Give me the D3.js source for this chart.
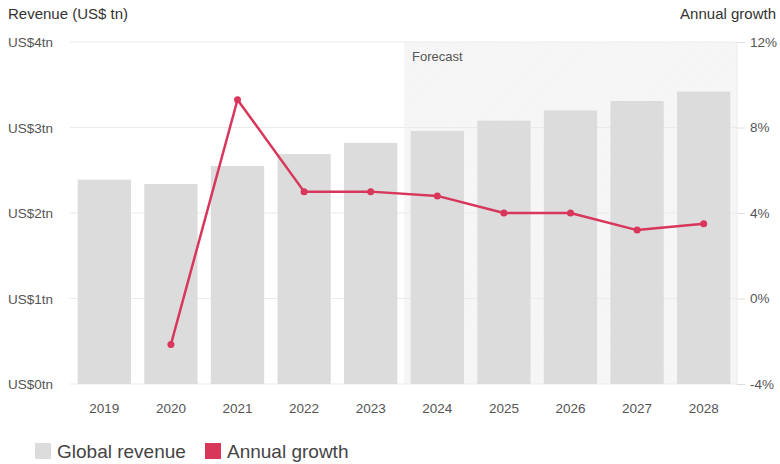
<!DOCTYPE html>
<html>
<head>
<meta charset="utf-8">
<script src="https://cdn.jsdelivr.net/npm/d3@7"></script>
<style>
  body { margin: 0; background: #fff; }
  svg { font-family: "Liberation Sans", Arial, sans-serif; }
</style>
</head>
<body>
<svg id="chart"></svg>
<script>
const years = ["2019", "2020", "2021", "2022", "2023", "2024", "2025", "2026", "2027", "2028"];
const revenue = [2.39, 2.34, 2.55, 2.69, 2.82, 2.96, 3.08, 3.20, 3.31, 3.42];
const growth = [null, -2.15, 9.3, 5.0, 5.0, 4.8, 4.0, 4.0, 3.2, 3.5];
const forecastStart = "2024";
const leftTicks = [0, 1, 2, 3, 4];
const rightTicks = [-4, 0, 4, 8, 12];

const width = 780, height = 464;
const margin = { top: 42, right: 43, bottom: 80, left: 71 };

const svg = d3.select("#chart")
    .attr("width", width)
    .attr("height", height);

const x = d3.scaleBand()
    .domain(years)
    .range([margin.left, width - margin.right])
    .paddingInner(0.2)
    .paddingOuter(0.1);

const y = d3.scaleLinear().domain([0, 4]).range([height - margin.bottom, margin.top]);
const y2 = d3.scaleLinear().domain([-4, 12]).range([height - margin.bottom, margin.top]);

// dotted pattern for forecast zone
const defs = svg.append("defs");
const pat = defs.append("pattern")
    .attr("id", "hatch")
    .attr("width", 3).attr("height", 3)
    .attr("patternUnits", "userSpaceOnUse")
    .attr("patternTransform", "rotate(45)");
pat.append("rect").attr("width", 3).attr("height", 3).attr("fill", "#f7f7f7");
pat.append("line").attr("x1", 0).attr("y1", 0).attr("x2", 0).attr("y2", 3)
    .attr("stroke", "#f0f0f0").attr("stroke-width", 1);

// forecast background
const fx = x(forecastStart) - x.step() * x.paddingInner() / 2;
svg.append("rect")
    .attr("x", fx)
    .attr("y", margin.top)
    .attr("width", width - margin.right - fx)
    .attr("height", y(0) - margin.top)
    .attr("fill", "url(#hatch)");

svg.append("text")
    .attr("x", fx + 8)
    .attr("y", margin.top + 19)
    .attr("font-size", 13)
    .attr("fill", "#555")
    .text("Forecast");

// gridlines
svg.append("g")
    .selectAll("line")
    .data(leftTicks)
    .join("line")
    .attr("x1", margin.left - 1)
    .attr("x2", width - margin.right)
    .attr("y1", d => y(d))
    .attr("y2", d => y(d))
    .attr("stroke", "#ebebeb");

// right border line
svg.append("line")
    .attr("x1", width - margin.right).attr("x2", width - margin.right)
    .attr("y1", margin.top).attr("y2", y(0))
    .attr("stroke", "#ececec");

// left axis labels
svg.append("g")
    .selectAll("text")
    .data(leftTicks)
    .join("text")
    .attr("x", 8)
    .attr("y", d => y(d) + 5)
    .attr("font-size", 13.5)
    .attr("fill", "#555")
    .text(d => `US$${d}tn`);

// right axis
const yAxisRight = d3.axisRight(y2)
    .tickValues(rightTicks)
    .tickSize(8)
    .tickPadding(5)
    .tickFormat(d => d + "%");

const rg = svg.append("g")
    .attr("transform", `translate(${width - margin.right},0)`)
    .call(yAxisRight);
rg.select(".domain").remove();
rg.selectAll(".tick line").attr("stroke", "#ddd");
rg.selectAll(".tick text")
    .attr("font-size", 13.5)
    .attr("fill", "#555")
    .attr("font-family", "Liberation Sans, Arial, sans-serif");

// bars
svg.append("g")
    .selectAll("rect")
    .data(years)
    .join("rect")
    .attr("x", d => x(d))
    .attr("width", x.bandwidth())
    .attr("y", (d, i) => y(revenue[i]))
    .attr("height", (d, i) => y(0) - y(revenue[i]))
    .attr("fill", "#dcdcdc");

// x labels
svg.append("g")
    .selectAll("text")
    .data(years)
    .join("text")
    .attr("x", d => x(d) + x.bandwidth() / 2)
    .attr("y", y(0) + 29)
    .attr("text-anchor", "middle")
    .attr("font-size", 13.5)
    .attr("fill", "#555")
    .text(d => d);

// growth line
const pts = years.map((d, i) => [d, growth[i]]).filter(d => d[1] !== null);
const line = d3.line()
    .x(d => x(d[0]) + x.bandwidth() / 2)
    .y(d => y2(d[1]));

svg.append("path")
    .datum(pts)
    .attr("d", line)
    .attr("fill", "none")
    .attr("stroke", "#d8365a")
    .attr("stroke-width", 2.5)
    .attr("stroke-linejoin", "round");

svg.append("g")
    .selectAll("circle")
    .data(pts)
    .join("circle")
    .attr("cx", d => x(d[0]) + x.bandwidth() / 2)
    .attr("cy", d => y2(d[1]))
    .attr("r", 3.5)
    .attr("fill", "#d8365a");

// axis titles
svg.append("text")
    .attr("x", 8).attr("y", 19)
    .attr("font-size", 15)
    .attr("fill", "#333")
    .text("Revenue (US$ tn)");

svg.append("text")
    .attr("x", width - 4).attr("y", 19)
    .attr("text-anchor", "end")
    .attr("font-size", 15)
    .attr("fill", "#333")
    .text("Annual growth");

// legend
const legend = [
    { label: "Global revenue", color: "#dcdcdc", x: 35 },
    { label: "Annual growth", color: "#d8365a", x: 205 }
];
const lg = svg.append("g")
    .selectAll("g")
    .data(legend)
    .join("g")
    .attr("transform", d => `translate(${d.x},443)`);
lg.append("rect")
    .attr("width", 16).attr("height", 16)
    .attr("fill", d => d.color);
lg.append("text")
    .attr("x", 22).attr("y", 15)
    .attr("font-size", 19)
    .attr("fill", "#444")
    .text(d => d.label);
</script>
</body>
</html>
